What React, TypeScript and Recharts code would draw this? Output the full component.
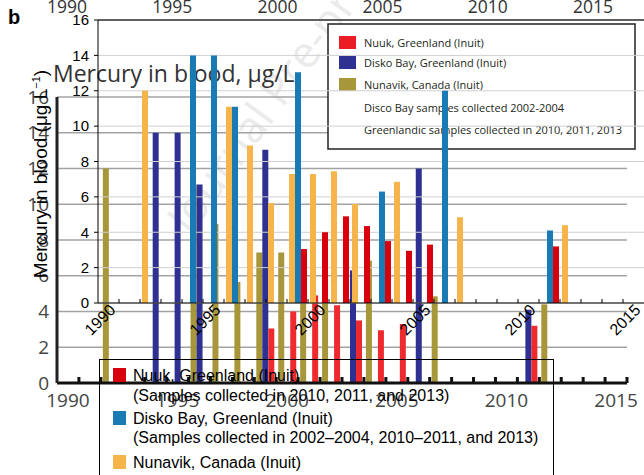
import React from 'react';
import { BarChart, Bar, XAxis, YAxis, CartesianGrid, ReferenceLine, LineChart, Line } from 'recharts';

// ---------- data ----------
const years = ['1990','1991','1992','1993','1994','1995','1996','1997','1998','1999','2000','2001','2002','2003','2004','2005','2006','2007','2008','2009','2010','2011','2012','2013','2014','2015'];
const nunavikValues: (number | null)[] = [null,null,12.0,null,null,null,11.1,8.9,5.65,7.3,7.3,7.45,5.6,null,6.85,null,null,4.85,null,null,null,null,4.4,null,null,null];
const diskoValues: (number | null)[] = [null,null,null,null,14,14,11.1,null,null,13.05,null,null,null,6.3,null,null,12,null,null,null,null,4.1,null,null,null,null];
const nuukValues: (number | null)[] = [null,null,null,null,null,null,null,null,null,3.05,4.0,4.9,4.35,3.5,2.95,3.3,null,null,null,null,null,3.2,null,null,null,null];
const yTicks = [0, 2, 4, 6, 8, 10, 12, 14, 16];
const topAxisYears = [1990, 1995, 2000, 2005, 2010, 2015];

const legendBottom = [
  { color: '#d9000d', title: 'Nuuk, Greenland (Inuit)', sub: '(Samples collected in 2010, 2011, and 2013)' },
  { color: '#1a7ab3', title: 'Disko Bay, Greenland (Inuit)', sub: '(Samples collected in 2002–2004, 2010–2011, and 2013)' },
  { color: '#f6b54a', title: 'Nunavik, Canada (Inuit)', sub: '' },
];
const legendTop = [
  { color: '#ec1c24', text: 'Nuuk, Greenland (Inuit)' },
  { color: '#2e3192', text: 'Disko Bay, Greenland (Inuit)' },
  { color: '#a8963a', text: 'Nunavik, Canada (Inuit)' },
  { color: null, text: 'Disco Bay samples collected 2002-2004' },
  { color: null, text: 'Greenlandic samples collected in 2010, 2011, 2013' },
];

const data = years.map((y, i) => ({ year: y, nunavik: nunavikValues[i], disko: diskoValues[i], nuuk: nuukValues[i] }));
const topData = topAxisYears.map((y) => ({ x: y, v: null }));

// ---------- layout ----------
const W = 644;
const H = 475;
const A_LEFT = 98, A_TOP = 20, A_BOTTOM = 172, A_RIGHT = 0;
const C_LEFT = 57, C_TOP = 97, C_BOTTOM = 92, C_RIGHT = 17;
const A_BW = (W - A_LEFT - A_RIGHT) / years.length;
const C_BW = (W - C_LEFT - C_RIGHT) / years.length;

const arial = '"Liberation Sans", Arial, sans-serif';
const open = '"Open Sans", "Noto Sans", sans-serif';

const TickA = (props: any) => {
  const { x, y, payload, index } = props;
  const v = String(payload.value);
  const show = Number(v) % 5 === 0;
  const px = x + 8, py = y + 8;
  return (
    <g>
      {index > 0 && <line x1={x - A_BW / 2} x2={x - A_BW / 2} y1={y} y2={y - 4} stroke="#000" strokeWidth={1} />}
      {show && (
        <text x={px} y={py} textAnchor="end" transform={`rotate(-45 ${px} ${py})`} fontSize={16} fontFamily={arial} fill="#000">{v}</text>
      )}
    </g>
  );
};

const TickC = (props: any) => {
  const { x, y, payload, index } = props;
  const v = String(payload.value);
  const show = Number(v) % 5 === 0;
  return (
    <g>
      {index > 0 && <rect x={x - C_BW / 2 - 1.5} y={y - 6} width={3} height={6} fill="#111" />}
      {index === years.length - 1 && <rect x={x + C_BW / 2 - 1.5} y={y - 6} width={3} height={6} fill="#111" />}
      {show && (
        <text x={x} y={y + 24} textAnchor="middle" fontSize={19} fontFamily={open} fill="#444">{v}</text>
      )}
    </g>
  );
};

export default function App() {
  return (
    <div style={{ position: 'absolute', left: 0, top: 0, width: W, height: H, overflow: 'hidden', background: '#fff' }}>
      {/* watermark */}
      <svg width={W} height={H} style={{ position: 'absolute', left: 0, top: 0 }}>
        <text x={190} y={236} transform="rotate(-54 190 236)" fontSize={44} fontFamily={open} fill="#ebebeb">Journal Pre-proof</text>
      </svg>

      {/* layer C: large grey axes with dark bars */}
      <div style={{ position: 'absolute', left: 0, top: 0 }}>
        <BarChart width={W} height={H} data={data} margin={{ top: C_TOP, right: C_RIGHT, bottom: C_BOTTOM - 30, left: 0 }} barGap={0} barSize={6}>
          <CartesianGrid vertical={false} stroke="#a3a3a3" strokeWidth={1.5} />
          <XAxis dataKey="year" interval={0} height={30} tickLine={false} tickSize={0} tickMargin={0} axisLine={{ stroke: '#111', strokeWidth: 3 }} tick={TickC} />
          <YAxis width={C_LEFT} domain={[0, 16]} ticks={yTicks} tickLine={false} axisLine={{ stroke: '#222', strokeWidth: 3 }} tick={{ fontSize: 19, fill: '#444', fontFamily: open }} />
          <Bar dataKey="nunavik" fill="#a8963a" isAnimationActive={false} />
          <Bar dataKey="disko" fill="#2e3192" isAnimationActive={false} />
          <Bar dataKey="nuuk" fill="#ee2a2f" isAnimationActive={false} />
        </BarChart>
      </div>

      {/* title */}
      <svg width={W} height={H} style={{ position: 'absolute', left: 0, top: 0 }}>
        <text x={53} y={82} fontSize={23} fontFamily={open} fill="#333">Mercury in blood, μg/L</text>
      </svg>

      {/* top-right legend */}
      <svg width={W} height={H} style={{ position: 'absolute', left: 0, top: 0 }}>
        <rect x={328} y={24} width={307} height={125} fill="#fff" stroke="#222" strokeWidth={1.5} />
        {legendTop.map((e, i) => {
          const cy = [43, 63, 85, 108, 130][i];
          return (
            <g key={i}>
              {e.color && <rect x={339} y={cy - 7} width={17} height={13} fill={e.color} />}
              <text x={364} y={cy + 4} fontSize={11} fontFamily={open} fill="#231f20">{e.text}</text>
            </g>
          );
        })}
      </svg>

      {/* layer A: main chart */}
      <div style={{ position: 'absolute', left: 0, top: 0 }}>
        <BarChart width={W} height={H} data={data} margin={{ top: A_TOP, right: A_RIGHT, bottom: A_BOTTOM - 30, left: 0 }} barGap={0} barSize={6}>
          <CartesianGrid vertical={false} stroke="#d0d0d0" />
          <XAxis dataKey="year" interval={0} height={30} tickLine={false} tickSize={0} tickMargin={0} axisLine={{ stroke: '#000' }} tick={TickA} />
          <YAxis width={A_LEFT} domain={[0, 16]} ticks={yTicks} tickSize={4} tickMargin={5} tickLine={{ stroke: '#000' }} axisLine={{ stroke: '#000' }} tick={{ fontSize: 15, fill: '#000', fontFamily: arial }} />
          <ReferenceLine y={16} stroke="#333" strokeWidth={1.5} />
          <Bar dataKey="nunavik" fill="#f6b54a" isAnimationActive={false} />
          <Bar dataKey="disko" fill="#1a7ab3" isAnimationActive={false} />
          <Bar dataKey="nuuk" fill="#d9000d" isAnimationActive={false} />
        </BarChart>
      </div>

      {/* rotated y label, panel letter, bottom legend */}
      <svg width={W} height={H} style={{ position: 'absolute', left: 0, top: 0 }}>
        <text x={8} y={24} fontSize={20} fontWeight="bold" fontFamily={arial} fill="#000">b</text>
        <text x={47} y={174} transform="rotate(-90 47 174)" textAnchor="middle" fontSize={19} fontFamily={arial} fill="#000">
          Mercury in blood (μg L<tspan dy={-7} fontSize={11}>−1</tspan><tspan dy={7}>)</tspan>
        </text>
        <rect x={99.5} y={359.5} width={454} height={140} fill="none" stroke="#000" strokeWidth={1} />
        {legendBottom.map((e, i) => {
          const cy = [375, 418, 462][i];
          const sy = [395, 437, 0][i];
          return (
            <g key={i}>
              <rect x={113} y={cy - 7} width={13} height={14} fill={e.color} />
              <text x={133} y={cy + 6} fontSize={16} fontFamily={arial} fill="#000">{e.title}</text>
              {e.sub && <text x={133} y={sy + 6} fontSize={16} fontFamily={arial} fill="#000">{e.sub}</text>}
            </g>
          );
        })}
      </svg>

      {/* top year labels */}
      <div style={{ position: 'absolute', left: 0, top: 0 }}>
        <LineChart width={W} height={30} data={topData} margin={{ top: 0, right: 51, bottom: 0, left: 67 }}>
          <XAxis xAxisId={0} orientation="top" dataKey="x" type="number" domain={[1990, 2015]} ticks={topAxisYears} height={19} axisLine={false} tickLine={false} tickSize={0} tickMargin={6} tick={{ fontSize: 17.5, fill: '#333', fontFamily: open }} />
          <YAxis hide width={0} />
          <Line dataKey="v" stroke="none" dot={false} isAnimationActive={false} />
        </LineChart>
      </div>
    </div>
  );
}
